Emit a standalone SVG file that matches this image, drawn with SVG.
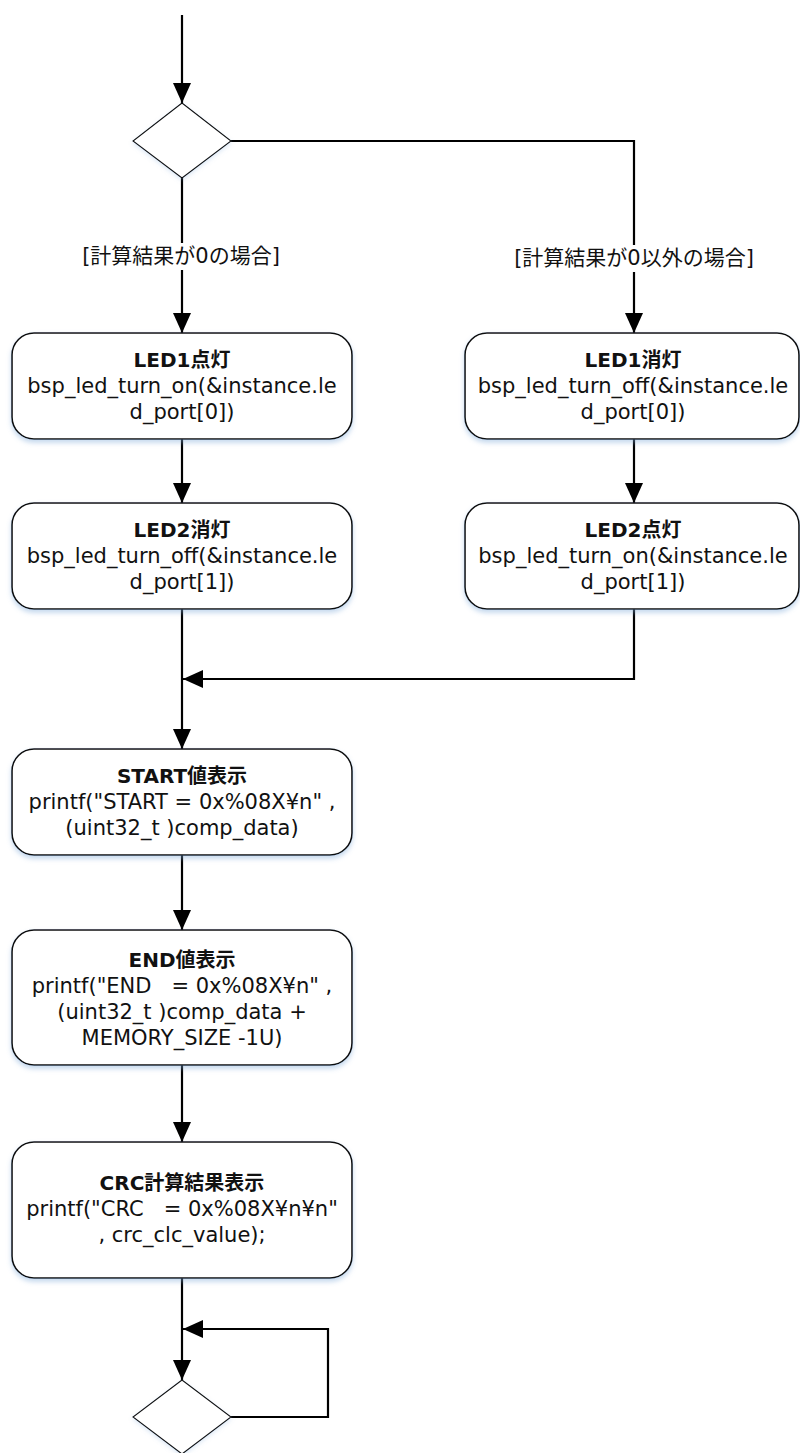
<svg xmlns="http://www.w3.org/2000/svg" width="800" height="1453" viewBox="0 0 800 1453">
<defs>
<style>
.box{fill:#fff;stroke:#111;stroke-width:1.6;filter:url(#sh)}
.dia{fill:#fff;stroke:#111;stroke-width:1.1;filter:url(#sh2)}
.con{fill:none;stroke:#000;stroke-width:2.2}
.t{font-family:"DejaVu Sans","Noto Sans CJK JP",sans-serif;font-size:20px;fill:#111;text-anchor:middle;white-space:pre}
.b{font-weight:bold}
.body{font-size:21px}
.lbl{font-family:"DejaVu Sans","Noto Sans CJK JP",sans-serif;font-size:21px;fill:#111;text-anchor:middle}
</style>
<filter id="sh" x="-10%" y="-20%" width="120%" height="150%">
<feDropShadow dx="0" dy="3" stdDeviation="2.5" flood-color="#7aa7d8" flood-opacity="0.45"/>
</filter>
<filter id="sh2" x="-20%" y="-20%" width="140%" height="150%">
<feDropShadow dx="0" dy="2" stdDeviation="2" flood-color="#7aa7d8" flood-opacity="0.25"/>
</filter>
<marker id="arr" viewBox="0 0 20 18" refX="20" refY="9" markerWidth="20" markerHeight="18" markerUnits="userSpaceOnUse" orient="auto">
<path d="M0,0 L20,9 L0,18 Z" fill="#000"/>
</marker>
</defs>

<g id="connectors">
<path class="con" d="M182,15 V103" marker-end="url(#arr)"/>
<path class="con" d="M182,178 V333" marker-end="url(#arr)"/>
<path class="con" d="M231,141 H634 V333" marker-end="url(#arr)"/>
<path class="con" d="M182,439 V503" marker-end="url(#arr)"/>
<path class="con" d="M634,439 V503" marker-end="url(#arr)"/>
<path class="con" d="M182,609 V749" marker-end="url(#arr)"/>
<path class="con" d="M634,609 V679 H183" marker-end="url(#arr)"/>
<path class="con" d="M182,855 V930" marker-end="url(#arr)"/>
<path class="con" d="M182,1065 V1142" marker-end="url(#arr)"/>
<path class="con" d="M182,1278 V1380" marker-end="url(#arr)"/>
<path class="con" d="M231,1417 H328 V1329 H183" marker-end="url(#arr)"/>
<g id="label-zero">
<rect x="78" y="243" width="206" height="27" fill="#fff"/>
<text class="lbl" x="181" y="263">[計算結果が0の場合]</text>
</g>
<g id="label-nonzero">
<rect x="506" y="245" width="256" height="27" fill="#fff"/>
<text class="lbl" x="634" y="265">[計算結果が0以外の場合]</text>
</g>
</g>

<g id="decision1">
<polygon class="dia" points="182,103 231,141 182,178 133,141"/>
</g>

<g id="led1on">
<rect class="box" x="12" y="333" width="340" height="106" rx="22"/>
<text class="t b" x="182" y="367">LED1点灯</text>
<text class="t body" x="182" y="393">bsp_led_turn_on(&amp;instance.le</text>
<text class="t body" x="182" y="419">d_port[0])</text>
</g>

<g id="led2off">
<rect class="box" x="12" y="503" width="340" height="106" rx="22"/>
<text class="t b" x="182" y="537">LED2消灯</text>
<text class="t body" x="182" y="563">bsp_led_turn_off(&amp;instance.le</text>
<text class="t body" x="182" y="589">d_port[1])</text>
</g>

<g id="led1off">
<rect class="box" x="465" y="333" width="334" height="106" rx="22"/>
<text class="t b" x="633" y="367">LED1消灯</text>
<text class="t body" x="633" y="393">bsp_led_turn_off(&amp;instance.le</text>
<text class="t body" x="633" y="419">d_port[0])</text>
</g>

<g id="led2on">
<rect class="box" x="465" y="503" width="334" height="106" rx="22"/>
<text class="t b" x="633" y="537">LED2点灯</text>
<text class="t body" x="633" y="563">bsp_led_turn_on(&amp;instance.le</text>
<text class="t body" x="633" y="589">d_port[1])</text>
</g>

<g id="start">
<rect class="box" x="12" y="749" width="340" height="106" rx="22"/>
<text class="t b" x="182" y="783">START値表示</text>
<text class="t body" x="182" y="809">printf("START = 0x%08X¥n" ,</text>
<text class="t body" x="182" y="835">(uint32_t )comp_data)</text>
</g>

<g id="end">
<rect class="box" x="12" y="930" width="340" height="135" rx="22"/>
<text class="t b" x="182" y="967">END値表示</text>
<text class="t body" x="182" y="993">printf("END   = 0x%08X¥n" ,</text>
<text class="t body" x="182" y="1019">(uint32_t )comp_data +</text>
<text class="t body" x="182" y="1045">MEMORY_SIZE -1U)</text>
</g>

<g id="crc">
<rect class="box" x="12" y="1142" width="340" height="136" rx="22"/>
<text class="t b" x="182" y="1190">CRC計算結果表示</text>
<text class="t body" x="182" y="1216">printf("CRC   = 0x%08X¥n¥n"</text>
<text class="t body" x="182" y="1242">, crc_clc_value);</text>
</g>

<g id="decision2">
<polygon class="dia" points="182,1380 231,1417 182,1454 133,1417"/>
</g>
</svg>
